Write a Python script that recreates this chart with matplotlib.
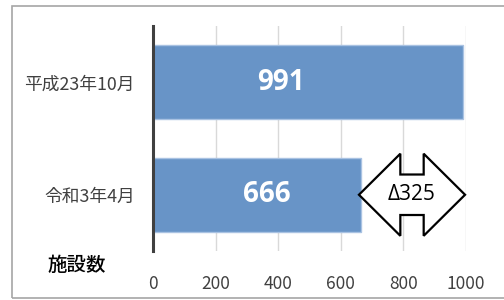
import matplotlib.pyplot as plt
from matplotlib.patches import Polygon, Rectangle

plt.rcParams['font.family'] = ['Noto Sans CJK JP', 'DejaVu Sans']

# data
labels = ['令和3年4月', '平成23年10月']
values = [666, 991]
xticks = [0, 200, 400, 600, 800, 1000]
label_x = [364, 409]  # where the value labels sit
unit_label = '施設数'

fig = plt.figure(figsize=(5.04, 3.0), dpi=100)
ax = fig.add_axes([0.3036, 0.1633, 0.621, 0.75])

ypos = list(range(len(labels)))
ax.barh(ypos, values, height=0.655, color='#6894C7', edgecolor='#A9C2E2',
        linewidth=1, zorder=2)

ax.set_xlim(0, 1000)
ax.set_ylim(-0.5, 1.5)
ax.set_xticks(xticks)
ax.set_yticks(ypos)
ax.set_yticklabels(labels, fontsize=12.8, color='#404040')
ax.tick_params(axis='x', length=0, pad=17, labelsize=12.5, labelcolor='#404040')
ax.tick_params(axis='y', length=0, pad=13)
ax.grid(axis='x', color='#D9D9D9', linewidth=1, zorder=0)
ax.set_axisbelow(True)
for s in ['top', 'right', 'bottom']:
    ax.spines[s].set_visible(False)
ax.spines['left'].set_color('#404040')
ax.spines['left'].set_linewidth(2.2)
ax.spines['left'].set_zorder(3)

# value labels
for y, v, lx in zip(ypos, values, label_x):
    ax.text(lx, y, str(v), color='white', fontsize=20, fontweight='bold',
            ha='center', va='center', family=['Open Sans', 'DejaVu Sans'], zorder=4)

# double arrow between the two values
L = values[0] - 8
R = values[1] + 6
yc = ypos[0]
h = (R - L) * 0.39
H = 0.73
s = 0.36
pts = [(L, yc), (L + h, yc + H / 2), (L + h, yc + s / 2), (R - h, yc + s / 2),
       (R - h, yc + H / 2), (R, yc), (R - h, yc - H / 2), (R - h, yc - s / 2),
       (L + h, yc - s / 2), (L + h, yc - H / 2)]
ax.add_patch(Polygon(pts, closed=True, facecolor='white', edgecolor='black',
                     linewidth=1.6, zorder=5, clip_on=False))
ax.text((L + R) / 2, yc, 'Δ' + str(values[1] - values[0]), fontsize=15,
        ha='center', va='center', color='black', zorder=6,
        family=['Open Sans', 'DejaVu Sans'])

fig.text(77 / 504, 1 - 265 / 300, unit_label, fontsize=14, fontweight='medium',
         ha='center', va='center', color='black')

# outer frame of the chart area
fig.patches.append(Rectangle((12 / 504, 2 / 300), 1.0, 292 / 300,
                             transform=fig.transFigure, fill=False,
                             edgecolor='#A6A6A6', linewidth=1.2))

fig.savefig('out.png', dpi=100)
